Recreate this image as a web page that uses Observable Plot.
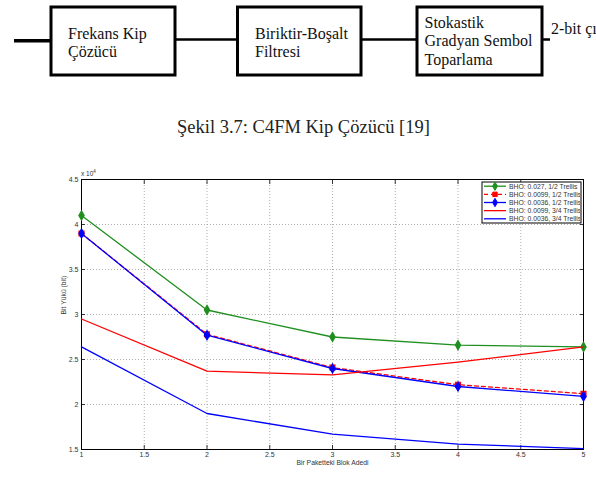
<!DOCTYPE html>
<html>
<head>
<meta charset="utf-8">
<script src="https://cdn.jsdelivr.net/npm/d3@7"></script>
<script src="https://cdn.jsdelivr.net/npm/@observablehq/plot@0.6"></script>
<style>
  html, body { margin: 0; padding: 0; background: #fff; }
  #page { position: relative; width: 596px; height: 477px; overflow: hidden; }
  #diagram { position: absolute; left: 0; top: 0; }
  #caption { position: absolute; left: 177px; top: 116px; white-space: nowrap;
             font-family: "Liberation Serif", "DejaVu Serif", serif; font-size: 18.5px; line-height: 22px; color: #222; }
  #chart { position: absolute; left: 0; top: 165px; }
</style>
</head>
<body>
<div id="page">
  <svg id="diagram" width="596" height="90"></svg>
  <div id="caption">Şekil 3.7: C4FM Kip Çözücü [19]</div>
  <div id="chart"></div>
</div>
<script>
// Block diagram of the demodulator chain
const stageLabels = [
  ["Frekans Kip", "Çözücü"],
  ["Biriktir-Boşalt", "Filtresi"],
  ["Stokastik", "Gradyan Sembol", "Toparlama"]
];
const outputLabel = "2-bit çıkış";

// Simulated bit load (×10^4 bits) versus blocks per packet
const blocks = [1, 2, 3, 4, 5];
const bho027Half  = [4.10, 3.05, 2.75, 2.66, 2.64];
const bho0099Half = [3.90, 2.78, 2.41, 2.22, 2.12];
const bho0036Half = [3.90, 2.77, 2.40, 2.20, 2.09];
const bho0099ThreeQ = [2.95, 2.37, 2.33, 2.47, 2.64];
const bho0036ThreeQ = [2.64, 1.90, 1.67, 1.56, 1.51];

const seriesNames = [
  "BHO: 0.027, 1/2 Trellis",
  "BHO: 0.0099, 1/2 Trellis",
  "BHO: 0.0036, 1/2 Trellis",
  "BHO: 0.0099, 3/4 Trellis",
  "BHO: 0.0036, 3/4 Trellis"
];
const xTicks = [1, 1.5, 2, 2.5, 3, 3.5, 4, 4.5, 5];
const yTicks = [1.5, 2, 2.5, 3, 3.5, 4, 4.5];
const xLabel = "Bir Paketteki Blok Adedi";
const yLabel = "Bit Yükü (bit)";

const series = [
  {name: seriesNames[0], values: bho027Half,    color: "#1f8f1f", dash: null,  symbol: "diamond"},
  {name: seriesNames[1], values: bho0099Half,   color: "#ff0000", dash: "4,3", symbol: "square"},
  {name: seriesNames[2], values: bho0036Half,   color: "#0000ff", dash: null,  symbol: "diamond"},
  {name: seriesNames[3], values: bho0099ThreeQ, color: "#ff0000", dash: null,  symbol: null},
  {name: seriesNames[4], values: bho0036ThreeQ, color: "#0000ff", dash: null,  symbol: null}
];

// ---- diagram ----
{
  const svg = d3.select("#diagram");
  const serif = '"Liberation Serif", "DejaVu Serif", serif';
  const boxes = [{x: 51, w: 124, pad: 17}, {x: 237.5, w: 123.5, pad: 17.5}, {x: 417, w: 125, pad: 7.5}];
  const boxY = 7, boxH = 68;
  svg.append("line").attr("x1", 14).attr("x2", 51).attr("y1", 40.7).attr("y2", 40.7)
     .attr("stroke", "#000").attr("stroke-width", 3.5);
  const links = [[175, 237.5], [361, 417], [542, 550]];
  links.forEach(([a, b]) => svg.append("line").attr("x1", a).attr("x2", b)
     .attr("y1", 39.5).attr("y2", 39.5).attr("stroke", "#000").attr("stroke-width", 2.5));
  boxes.forEach((b, i) => {
    svg.append("rect").attr("x", b.x).attr("y", boxY).attr("width", b.w).attr("height", boxH)
       .attr("fill", "#fff").attr("stroke", "#000").attr("stroke-width", 3);
    const lines = stageLabels[i];
    const baselines = lines.length === 2 ? [38.5, 57] : [27.5, 46, 64.5];
    lines.forEach((t, j) => svg.append("text").attr("x", b.x + b.pad).attr("y", baselines[j])
       .attr("font-family", serif).attr("font-size", 16)
       .attr("fill", "#111").text(t));
  });
  svg.append("text").attr("x", 551).attr("y", 34)
     .attr("font-family", serif).attr("font-size", 16)
     .attr("fill", "#111").text(outputLabel);
}

// ---- chart ----
const font = '"Liberation Sans", Arial, sans-serif';
const gridStyle = {stroke: "#9a9a9a", strokeOpacity: 1, strokeDasharray: "1,2", strokeWidth: 0.8};
const noText = () => "";

const marks = [
  Plot.gridX(xTicks, gridStyle),
  Plot.gridY(yTicks, gridStyle),
  Plot.axisX(xTicks, {anchor: "bottom", tickSize: 0, tickPadding: 3, label: null, tickFormat: d => String(d), fill: "#333"}),
  Plot.axisY(yTicks, {anchor: "left", tickSize: 0, tickPadding: 3, label: null, tickFormat: d => String(d), fill: "#333"}),
  Plot.axisX(xTicks, {anchor: "bottom", tickSize: -4, label: null, tickFormat: noText}),
  Plot.axisX(xTicks, {anchor: "top", tickSize: -4, label: null, tickFormat: noText}),
  Plot.axisY(yTicks, {anchor: "left", tickSize: -4, label: null, tickFormat: noText}),
  Plot.axisY(yTicks, {anchor: "right", tickSize: -4, label: null, tickFormat: noText}),
  Plot.frame({stroke: "#000", strokeWidth: 1}),
  Plot.text([xLabel], {frameAnchor: "bottom", dy: 15, fill: "#333", fontSize: 6.8}),
  Plot.text([yLabel], {frameAnchor: "left", dx: -18, rotate: -90, fill: "#333", fontSize: 6.8})
];
for (const s of series) {
  marks.push(Plot.line(blocks, {x: d => d, y: (d, i) => s.values[i], stroke: s.color,
    strokeWidth: 1.3, strokeDasharray: s.dash}));
  if (s.symbol) {
    marks.push(Plot.dot(blocks, {x: d => d, y: (d, i) => s.values[i], symbol: s.symbol,
      fill: s.color, stroke: s.color, r: 2.6}));
  }
}

const chart = Plot.plot({
  width: 596, height: 312,
  marginTop: 14, marginBottom: 28, marginLeft: 81, marginRight: 13,
  style: {fontFamily: font, fontSize: "7px", background: "#fff", color: "#333", overflow: "visible"},
  x: {domain: [1, 5]},
  y: {domain: [1.5, 4.5]},
  marks
});
document.getElementById("chart").appendChild(chart);

// exponent label and legend
{
  const svg = d3.select(chart);
  const exp = svg.append("text").attr("x", 81).attr("y", 11).attr("text-anchor", "start")
     .attr("font-family", font).attr("font-size", 6.5).attr("fill", "#333");
  exp.append("tspan").text("x 10");
  exp.append("tspan").attr("dy", -3).attr("font-size", 4.5).text("4");

  const lx = 482, ly = 17, lw = 99, lh = 41;
  const defs = svg.append("defs");
  defs.append("clipPath").attr("id", "legend-clip").append("rect")
     .attr("x", lx).attr("y", ly).attr("width", lw - 1).attr("height", lh);
  const g = svg.append("g");
  g.append("rect").attr("x", lx).attr("y", ly).attr("width", lw).attr("height", lh)
   .attr("fill", "#fff").attr("stroke", "#000").attr("stroke-width", 1);
  const inner = g.append("g").attr("clip-path", "url(#legend-clip)");
  series.forEach((s, i) => {
    const y = ly + 4.2 + i * 8.15;
    inner.append("line").attr("x1", lx + 2).attr("x2", lx + 24).attr("y1", y).attr("y2", y)
      .attr("stroke", s.color).attr("stroke-width", 1.3).attr("stroke-dasharray", s.dash);
    if (s.symbol) {
      const sym = d3.symbol(s.symbol === "square" ? d3.symbolSquare : d3.symbolDiamond, 20);
      inner.append("path").attr("d", sym()).attr("transform", `translate(${lx + 13},${y})`)
        .attr("fill", s.color).attr("stroke", s.color);
    }
    inner.append("text").attr("x", lx + 27).attr("y", y).attr("dy", "0.35em").attr("text-anchor", "start")
      .attr("font-family", font).attr("font-size", 6.8).attr("fill", "#333").text(s.name);
  });
}
</script>
</body>
</html>
